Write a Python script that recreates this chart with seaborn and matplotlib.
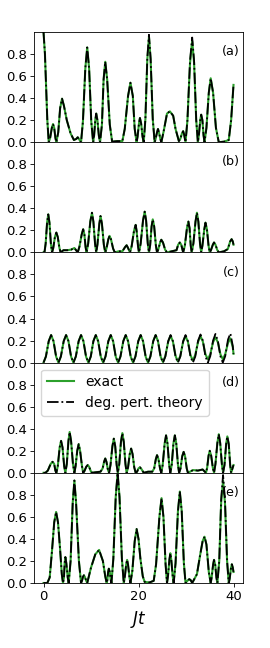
import matplotlib
matplotlib.use("Agg")
import matplotlib.pyplot as plt
import seaborn as sns
import pandas as pd

# ---------------- data ----------------
t_a = [0, 0.3, 0.55, 0.8, 1.1,
       1.4, 1.75, 2.0, 2.25, 2.5, 2.7,
       3.1, 3.5, 3.9, 4.3, 4.9, 5.7, 6.4, 6.9, 7.2, 7.6, 7.9,
       8.3, 8.8, 9.2, 9.6, 10.05, 10.45,
       10.65, 10.9, 11.1, 11.35, 11.65, 11.9,
       12.3, 12.65, 13.0, 13.4, 13.95, 14.45,
       15.5, 16.6, 17.1, 17.8, 18.3, 18.8, 19.2, 19.6,
       19.8, 20.1, 20.3, 20.55, 20.85, 21.1,
       21.45, 21.85, 22.2, 22.55, 23.0, 23.4,
       23.6, 23.9, 24.1, 24.3, 24.6, 24.8,
       25.3, 26.0, 26.6, 27.3, 27.8, 28.5,
       28.8, 29.15, 29.4, 29.6, 29.9,
       30.3, 30.85, 31.3, 31.7, 32.15, 32.5,
       32.7, 33.0, 33.2, 33.45, 33.7, 33.9,
       34.3, 34.8, 35.2, 35.7, 36.3, 36.9,
       38.0, 39.0, 39.5, 40.0]
exact_a = [1.0, 0.8, 0.5, 0.2, 0.0,
           0.04, 0.13, 0.165, 0.13, 0.04, 0.0,
           0.09, 0.31, 0.395, 0.33, 0.2, 0.08, 0.02, 0.03, 0.045, 0.02, 0.0,
           0.19, 0.67, 0.86, 0.67, 0.19, 0.0,
           0.06, 0.2, 0.26, 0.2, 0.06, 0.0,
           0.16, 0.57, 0.73, 0.57, 0.16, 0.005,
           0.01, 0.01, 0.12, 0.42, 0.54, 0.42, 0.12, 0.0,
           0.05, 0.17, 0.22, 0.17, 0.05, 0.0,
           0.21, 0.75, 0.955, 0.75, 0.21, 0.0,
           0.03, 0.09, 0.12, 0.09, 0.03, 0.0,
           0.1, 0.26, 0.28, 0.24, 0.12, 0.01,
           0.03, 0.08, 0.10, 0.07, 0.0,
           0.2, 0.72, 0.92, 0.72, 0.2, 0.0,
           0.06, 0.2, 0.25, 0.2, 0.06, 0.0,
           0.13, 0.45, 0.58, 0.45, 0.13, 0.0,
           0.005, 0.02, 0.2, 0.52]
pert_a = [1.0, 0.8, 0.5, 0.2, 0.0,
          0.04, 0.13, 0.165, 0.13, 0.04, 0.0,
          0.09, 0.31, 0.395, 0.33, 0.2, 0.08, 0.02, 0.03, 0.045, 0.02, 0.0,
          0.19, 0.67, 0.86, 0.67, 0.19, 0.0,
          0.06, 0.2, 0.26, 0.2, 0.06, 0.0,
          0.16, 0.57, 0.73, 0.57, 0.16, 0.005,
          0.01, 0.01, 0.12, 0.42, 0.54, 0.42, 0.12, 0.0,
          0.05, 0.17, 0.22, 0.17, 0.05, 0.0,
          0.21, 0.76, 0.975, 0.76, 0.21, 0.0,
          0.03, 0.09, 0.12, 0.09, 0.03, 0.0,
          0.1, 0.26, 0.28, 0.24, 0.12, 0.01,
          0.03, 0.08, 0.10, 0.07, 0.0,
          0.2, 0.74, 0.95, 0.74, 0.2, 0.0,
          0.06, 0.2, 0.25, 0.2, 0.06, 0.0,
          0.13, 0.45, 0.58, 0.45, 0.13, 0.0,
          0.005, 0.02, 0.2, 0.52]

t_b = [0, 0.2, 0.45, 0.75, 1.0, 1.25, 1.55, 1.8,
       2.05, 2.4, 2.7, 3.0, 3.35, 3.6,
       4.2, 5.0, 5.8, 6.5, 7.2,
       7.55, 8.05, 8.35, 8.6, 8.85, 9.05,
       9.4, 9.85, 10.2, 10.5, 10.85, 11.1,
       11.35, 11.75, 12.0, 12.3, 12.7, 13.0,
       13.25, 13.65, 13.9, 14.2, 14.65, 15.0,
       15.8, 16.6, 17.2, 17.5, 17.8, 18.2,
       18.55, 19.05, 19.4, 19.6, 19.9, 20.1,
       20.45, 20.95, 21.3, 21.6, 21.95, 22.2,
       22.45, 22.75, 23.0, 23.3, 23.65, 23.9,
       24.15, 24.55, 24.8, 25.15, 25.6, 26.0,
       27.0, 28.0, 28.35, 28.7, 29.0, 29.4,
       29.75, 30.2, 30.5, 30.75, 31.0, 31.2,
       31.55, 32.0, 32.3, 32.6, 32.95, 33.2,
       33.45, 33.85, 34.1, 34.4, 34.75, 35.0,
       35.25, 35.65, 35.9, 36.2, 36.6, 36.9,
       38.0, 38.8, 39.3, 39.6, 39.85, 40.0]
exact_b = [0, 0, 0.08, 0.27, 0.345, 0.27, 0.08, 0,
           0.04, 0.14, 0.18, 0.14, 0.04, 0,
           0.02, 0.02, 0.025, 0.04, 0,
           0.05, 0.165, 0.21, 0.165, 0.05, 0,
           0.08, 0.28, 0.36, 0.28, 0.08, 0,
           0.07, 0.26, 0.33, 0.26, 0.07, 0,
           0.035, 0.12, 0.15, 0.12, 0.035, 0,
           0.01, 0.01, 0.05, 0.065, 0.04, 0,
           0.055, 0.195, 0.25, 0.195, 0.055, 0,
           0.08, 0.29, 0.37, 0.29, 0.08, 0,
           0.065, 0.235, 0.30, 0.235, 0.065, 0,
           0.025, 0.09, 0.115, 0.09, 0.025, 0,
           0.01, 0.02, 0.07, 0.09, 0.07, 0,
           0.06, 0.22, 0.28, 0.22, 0.06, 0,
           0.08, 0.28, 0.36, 0.28, 0.08, 0,
           0.06, 0.21, 0.27, 0.21, 0.06, 0,
           0.02, 0.07, 0.09, 0.07, 0.02, 0,
           0.01, 0.03, 0.1, 0.12, 0.1, 0.07]
pert_b = list(exact_b)

t_c = [0, 0.5, 1.1, 1.6, 2.1, 2.65,
       3.15, 3.65, 4.25, 4.75, 5.25, 5.8,
       6.3, 6.8, 7.4, 7.9, 8.4, 8.95,
       9.45, 9.95, 10.5, 11.0, 11.5, 12.05,
       12.55, 13.05, 13.65, 14.15, 14.65, 15.2,
       15.7, 16.2, 16.8, 17.3, 17.8, 18.35,
       18.85, 19.35, 19.95, 20.45, 20.95, 21.5,
       22.0, 22.5, 23.1, 23.6, 24.1, 24.65,
       25.15, 25.65, 26.25, 26.75, 27.25, 27.8,
       28.3, 28.8, 29.4, 29.9, 30.4, 30.95,
       31.45, 31.95, 32.55, 33.05, 33.55, 34.1,
       34.6, 35.1, 35.7, 36.2, 36.7, 37.25,
       37.75, 38.25, 38.85, 39.35, 39.85, 40.0]
exact_c = [0, 0.055, 0.195, 0.25, 0.195, 0.055,
           0, 0.055, 0.195, 0.25, 0.195, 0.055,
           0, 0.055, 0.195, 0.25, 0.195, 0.055,
           0, 0.055, 0.195, 0.25, 0.195, 0.055,
           0, 0.055, 0.195, 0.25, 0.195, 0.055,
           0, 0.055, 0.195, 0.25, 0.195, 0.055,
           0, 0.055, 0.195, 0.25, 0.195, 0.055,
           0, 0.055, 0.195, 0.25, 0.195, 0.055,
           0.005, 0.06, 0.19, 0.245, 0.19, 0.06,
           0.01, 0.06, 0.19, 0.24, 0.19, 0.065,
           0.02, 0.07, 0.19, 0.24, 0.19, 0.075,
           0.03, 0.075, 0.185, 0.23, 0.185, 0.075,
           0.03, 0.075, 0.18, 0.22, 0.14, 0.08]
pert_c = [0, 0.055, 0.195, 0.25, 0.195, 0.055,
          0, 0.055, 0.195, 0.25, 0.195, 0.055,
          0, 0.055, 0.195, 0.25, 0.195, 0.055,
          0, 0.055, 0.195, 0.25, 0.195, 0.055,
          0, 0.055, 0.195, 0.25, 0.195, 0.055,
          0, 0.055, 0.195, 0.25, 0.195, 0.055,
          0, 0.055, 0.195, 0.25, 0.195, 0.055,
          0, 0.055, 0.195, 0.25, 0.195, 0.055,
          0, 0.055, 0.195, 0.25, 0.195, 0.055,
          0, 0.055, 0.195, 0.25, 0.195, 0.055,
          0, 0.055, 0.2, 0.255, 0.2, 0.055,
          0, 0.057, 0.2, 0.26, 0.2, 0.057,
          0, 0.058, 0.21, 0.265, 0.15, 0.08]

t_d = [0, 0.4, 0.9, 1.5, 1.9, 2.25, 2.5, 2.7,
       3.0, 3.4, 3.7, 4.0, 4.35, 4.6,
       4.9, 5.25, 5.5, 5.8, 6.2, 6.5,
       6.75, 7.1, 7.4, 7.7, 8.1, 8.35,
       8.6, 9.0, 9.3, 9.6, 9.95, 10.2,
       11.0, 12.0, 12.45, 12.75, 13.0, 13.25, 13.55, 13.8,
       14.1, 14.5, 14.8, 15.1, 15.4, 15.65,
       15.95, 16.3, 16.6, 16.9, 17.25, 17.5,
       17.8, 18.15, 18.45, 18.75, 19.1, 19.4,
       19.7, 20.0, 20.3, 20.6, 21.1,
       22.0, 22.9, 23.3, 23.65, 23.9, 24.2, 24.55, 24.8,
       25.1, 25.5, 25.8, 26.1, 26.45, 26.7,
       27.0, 27.35, 27.65, 27.95, 28.3, 28.55,
       28.85, 29.2, 29.5, 29.8, 30.15, 30.4,
       31.5, 32.5, 33.5, 34.2,
       34.45, 34.75, 35.0, 35.3, 35.65, 35.9,
       36.2, 36.6, 36.9, 37.2, 37.55, 37.8,
       38.1, 38.45, 38.7, 39.0, 39.3, 39.5,
       40.0]
exact_d = [0, 0, 0.02, 0.08, 0.10, 0.08, 0.02, 0,
           0.06, 0.23, 0.29, 0.23, 0.06, 0,
           0.08, 0.29, 0.37, 0.29, 0.08, 0,
           0.06, 0.2, 0.26, 0.2, 0.06, 0,
           0.015, 0.055, 0.07, 0.055, 0.015, 0,
           0.005, 0.01, 0.04, 0.1, 0.13, 0.1, 0.03, 0,
           0.07, 0.24, 0.31, 0.24, 0.07, 0,
           0.08, 0.28, 0.36, 0.28, 0.08, 0,
           0.05, 0.17, 0.22, 0.17, 0.05, 0,
           0.01, 0.04, 0.05, 0.035, 0,
           0.01, 0.01, 0.04, 0.125, 0.16, 0.125, 0.035, 0,
           0.075, 0.265, 0.34, 0.265, 0.075, 0,
           0.075, 0.265, 0.34, 0.265, 0.075, 0,
           0.04, 0.15, 0.19, 0.15, 0.04, 0,
           0.025, 0.02, 0.03, 0.0,
           0.045, 0.155, 0.20, 0.155, 0.045, 0,
           0.08, 0.27, 0.35, 0.27, 0.08, 0,
           0.07, 0.26, 0.33, 0.26, 0.07, 0,
           0.07]
pert_d = list(exact_d)

t_e = [0, 0.8, 1.3, 1.8, 2.25, 2.65, 3.05, 3.5, 3.85, 4.1,
       4.3, 4.45, 4.6, 4.8, 5.1, 5.3,
       5.7, 6.15, 6.5, 6.85, 7.45, 7.9,
       8.1, 8.3, 8.5, 8.7, 9.0, 9.2,
       10.0, 10.9, 11.7, 12.5, 13.0, 13.3,
       13.45, 13.6, 13.75, 13.95, 14.15, 14.3,
       14.7, 15.2, 15.6, 16.0, 16.5, 16.9,
       17.1, 17.4, 17.6, 17.8, 18.1, 18.3,
       18.7, 19.2, 19.6, 20.0, 20.4, 20.9, 21.3,
       22.3, 23.2, 23.7, 24.4, 24.85, 25.25, 25.7, 26.0,
       26.2, 26.5, 26.7, 26.9, 27.2, 27.4,
       27.8, 28.3, 28.7, 29.1, 29.55, 29.9,
       30.1, 30.4, 30.7, 31.0, 31.3,
       32.3, 33.0, 33.5, 33.9, 34.3, 34.8, 35.2,
       35.4, 35.7, 35.9, 36.15, 36.4, 36.6,
       37.0, 37.4, 37.8, 38.2, 38.65, 39.0,
       39.2, 39.45, 39.65, 39.85, 40.0]
exact_e = [0, 0, 0.05, 0.3, 0.55, 0.645, 0.55, 0.3, 0.08, 0,
           0.05, 0.18, 0.235, 0.18, 0.05, 0,
           0.2, 0.73, 0.93, 0.73, 0.2, 0,
           0.02, 0.055, 0.07, 0.055, 0.02, 0,
           0.14, 0.26, 0.30, 0.2, 0.06, 0,
           0.03, 0.1, 0.13, 0.1, 0.03, 0,
           0.22, 0.78, 1.0, 0.78, 0.22, 0,
           0.05, 0.165, 0.21, 0.165, 0.05, 0,
           0.11, 0.38, 0.49, 0.4, 0.22, 0.06, 0.01,
           0.005, 0.02, 0.17, 0.6, 0.77, 0.6, 0.17, 0,
           0.06, 0.21, 0.27, 0.21, 0.06, 0,
           0.18, 0.65, 0.83, 0.65, 0.18, 0,
           0.01, 0.025, 0.035, 0.025, 0,
           0.08, 0.26, 0.38, 0.42, 0.35, 0.1, 0,
           0.05, 0.165, 0.21, 0.165, 0.05, 0,
           0.2, 0.73, 0.93, 0.73, 0.2, 0,
           0.04, 0.13, 0.17, 0.14, 0.10]
pert_e = [0, 0, 0.05, 0.3, 0.55, 0.645, 0.55, 0.3, 0.08, 0,
          0.05, 0.18, 0.235, 0.18, 0.05, 0,
          0.2, 0.73, 0.93, 0.73, 0.2, 0,
          0.02, 0.055, 0.07, 0.055, 0.02, 0,
          0.14, 0.26, 0.30, 0.2, 0.06, 0,
          0.03, 0.1, 0.13, 0.1, 0.03, 0,
          0.22, 0.78, 1.0, 0.78, 0.22, 0,
          0.05, 0.165, 0.21, 0.165, 0.05, 0,
          0.11, 0.38, 0.49, 0.4, 0.22, 0.06, 0.01,
          0.005, 0.02, 0.17, 0.6, 0.77, 0.6, 0.17, 0,
          0.06, 0.21, 0.27, 0.21, 0.06, 0,
          0.18, 0.65, 0.83, 0.65, 0.18, 0,
          0.01, 0.025, 0.035, 0.025, 0,
          0.08, 0.26, 0.38, 0.42, 0.35, 0.1, 0,
          0.05, 0.165, 0.21, 0.165, 0.05, 0,
          0.2, 0.76, 0.98, 0.76, 0.2, 0,
          0.04, 0.13, 0.17, 0.14, 0.10]

panel_labels = ["(a)", "(b)", "(c)", "(d)", "(e)"]
series_labels = ["exact", "deg. pert. theory"]
x_ticks = [0, 20, 40]
y_ticks = [0.0, 0.2, 0.4, 0.6, 0.8]

panels = [(t_a, exact_a, pert_a), (t_b, exact_b, pert_b), (t_c, exact_c, pert_c),
          (t_d, exact_d, pert_d), (t_e, exact_e, pert_e)]

# ---------------- style ----------------
plt.rcParams.update({
    "font.family": ["DejaVu Sans"],
    "axes.linewidth": 0.6,
    "xtick.major.width": 0.6,
    "ytick.major.width": 0.6,
    "xtick.major.size": 2.6,
    "ytick.major.size": 2.6,
    "xtick.major.pad": 2.6,
    "ytick.major.pad": 2.6,
    "xtick.labelsize": 9.5,
    "ytick.labelsize": 9.5,
})

green = "#2ca02c"

fig, axes = plt.subplots(5, 1, figsize=(2.7, 6.48), dpi=100, sharex=True)
fig.subplots_adjust(left=0.126, right=0.9, top=0.9506, bottom=0.1003, hspace=0)

for i, (ax, (t, ex, pt), lab) in enumerate(zip(axes, panels, panel_labels)):
    df = pd.DataFrame({"t": t, "exact": ex, "pert": pt})
    sns.lineplot(data=df, x="t", y="exact", ax=ax, color=green, lw=1.5,
                 label=series_labels[0] if i == 3 else None, legend=False)
    sns.lineplot(data=df, x="t", y="pert", ax=ax, color="black", lw=1.3, linestyle="-.",
                 label=series_labels[1] if i == 3 else None, legend=False)
    ax.set_ylim(0, 1)
    ax.set_xlim(-2, 42)
    ax.set_yticks(y_ticks)
    ax.set_ylabel("")
    ax.set_xlabel("")
    ax.text(0.985, 0.88, lab, transform=ax.transAxes, ha="right", va="top", fontsize=9.2)
    if i < 4:
        ax.tick_params(axis="x", bottom=False, labelbottom=False)

axes[3].legend(loc="upper left", fontsize=10)
axes[4].set_xticks(x_ticks)
axes[4].set_xlabel("$Jt$", fontsize=12)

fig.savefig("out.png", dpi=100)
